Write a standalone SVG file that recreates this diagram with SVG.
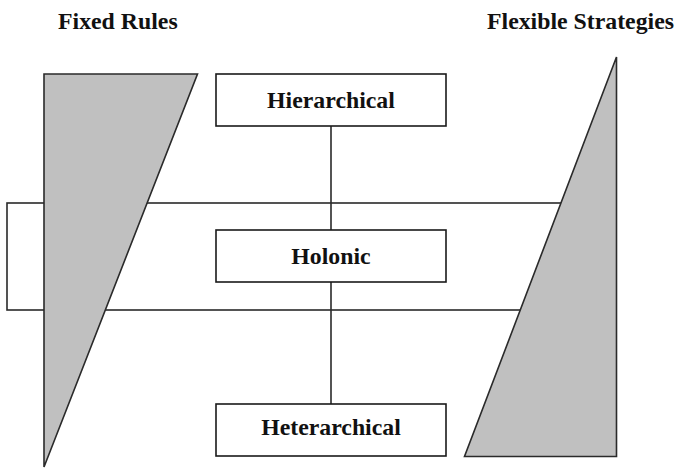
<svg xmlns="http://www.w3.org/2000/svg" width="677" height="471" viewBox="0 0 677 471">
  <style>
    .line { fill: none; stroke: #2a2a2a; stroke-width: 1.6; }
    .wedge { fill: #c0c0c0; stroke: #2a2a2a; stroke-width: 1.6; stroke-linejoin: miter; }
    .box { fill: #ffffff; stroke: #1a1a1a; stroke-width: 1.6; }
    .label { font-family: "Liberation Serif", "Times New Roman", serif; font-weight: bold; font-size: 23.8px; fill: #111111; }
  </style>
  <rect width="677" height="471" fill="#ffffff"/>

  <!-- connectors: holonic band and vertical links -->
  <g id="connectors">
    <rect class="line" x="7" y="203" width="593" height="107"/>
    <line class="line" x1="331" y1="126" x2="331" y2="404"/>
  </g>

  <!-- side wedges -->
  <g id="fixed-rules-wedge">
    <polygon class="wedge" points="44,74 197.5,74 44,467"/>
  </g>
  <g id="flexible-strategies-wedge">
    <polygon class="wedge" points="616.5,57 616.5,456.5 464.5,456.5"/>
  </g>

  <!-- headings -->
  <g id="fixed-rules-title">
    <text class="label" x="58" y="29">Fixed Rules</text>
  </g>
  <g id="flexible-strategies-title">
    <text class="label" x="487" y="29">Flexible Strategies</text>
  </g>

  <!-- nodes -->
  <g id="hierarchical">
    <rect class="box" x="216" y="74" width="230" height="52"/>
    <text class="label" x="331" y="108" text-anchor="middle">Hierarchical</text>
  </g>
  <g id="holonic">
    <rect class="box" x="216" y="230" width="230" height="52"/>
    <text class="label" x="331" y="264" text-anchor="middle">Holonic</text>
  </g>
  <g id="heterarchical">
    <rect class="box" x="216" y="404" width="230" height="52"/>
    <text class="label" x="331" y="435" text-anchor="middle">Heterarchical</text>
  </g>
</svg>
